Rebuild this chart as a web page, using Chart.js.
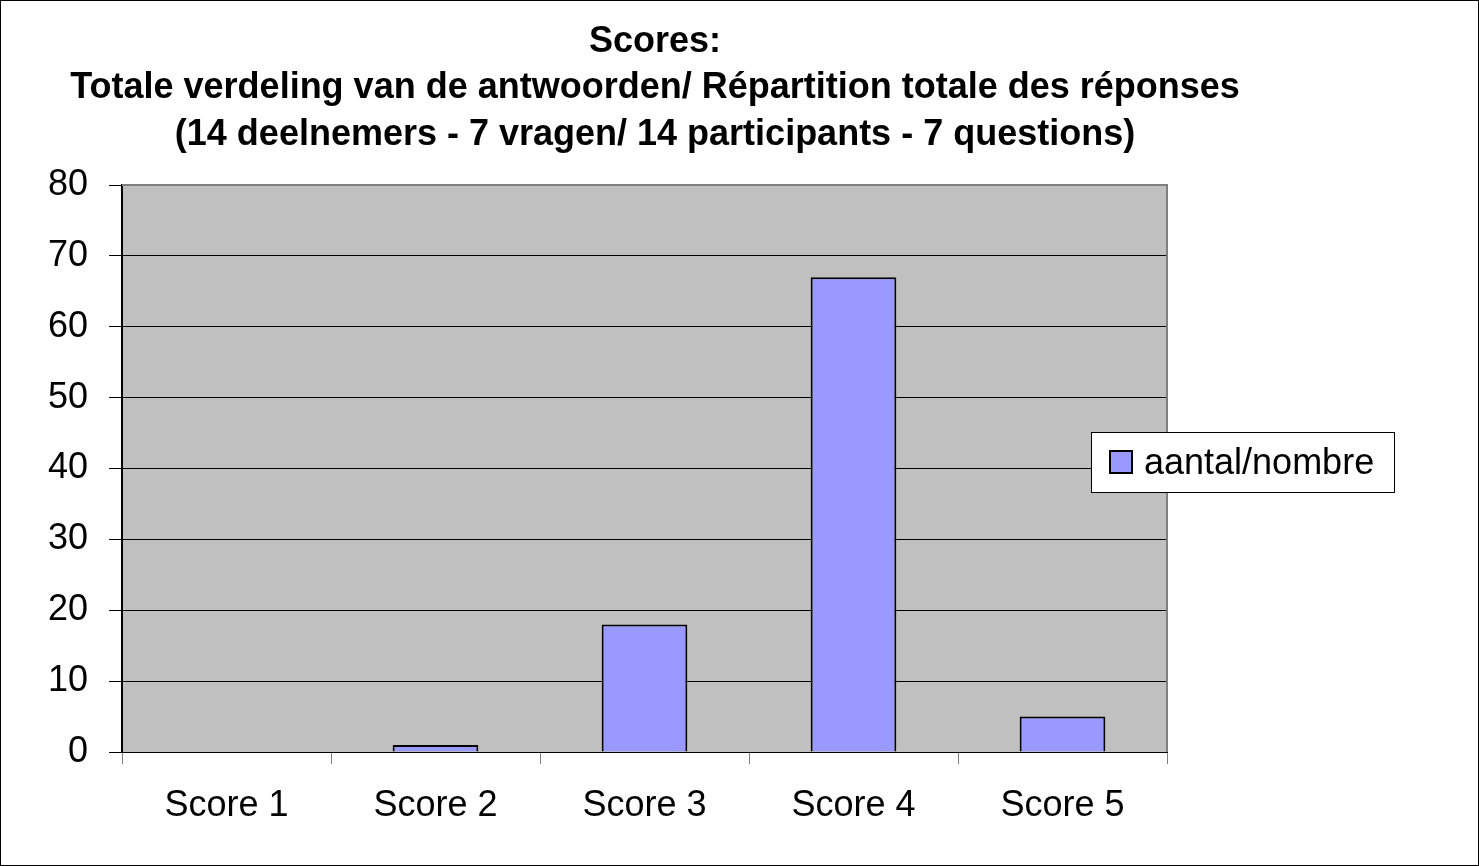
<!DOCTYPE html>
<html>
<head>
<meta charset="utf-8">
<script src="https://cdn.jsdelivr.net/npm/chart.js@4/dist/chart.umd.min.js"></script>
<style>
  body { margin: 0; background: #fff; }
  #wrap { width: 1479px; height: 866px; }
</style>
</head>
<body>
<div id="wrap"><canvas id="scoresChart" width="1479" height="866"></canvas></div>
<script>
const categories = ['Score 1', 'Score 2', 'Score 3', 'Score 4', 'Score 5']
const counts = [0, 1, 18, 67, 5]
const seriesLabel = 'aantal/nombre'
const titleLines = [
  'Scores:',
  'Totale verdeling van de antwoorden/ Répartition totale des réponses',
  '(14 deelnemers - 7 vragen/ 14 participants - 7 questions)'
]
const titleBaselines = [52, 98, 145]
const yTicks = [0, 10, 20, 30, 40, 50, 60, 70, 80]

const FONT = '"Liberation Sans", Arial, sans-serif'

// frame, plot background, title and legend box
const excelLook = {
  id: 'excelLook',
  beforeDraw(chart) {
    const c = chart.ctx
    const a = chart.chartArea
    c.save()
    c.fillStyle = '#fff'
    c.fillRect(0, 0, chart.width, chart.height)
    c.strokeStyle = '#000'
    c.lineWidth = 1
    c.strokeRect(0.5, 0.5, chart.width - 1, chart.height - 1)
    c.fillStyle = '#c0c0c0'
    c.fillRect(a.left, a.top, a.right - a.left, a.bottom - a.top)
    c.restore()
  },
  afterDraw(chart) {
    const c = chart.ctx
    const a = chart.chartArea
    c.save()
    // top / right border of plot area
    c.strokeStyle = '#808080'
    c.lineWidth = 2
    c.beginPath()
    c.moveTo(a.left, a.top)
    c.lineTo(a.right, a.top)
    c.lineTo(a.right, a.bottom)
    c.stroke()

    // title
    c.fillStyle = '#000'
    c.font = 'bold 36px ' + FONT
    c.textAlign = 'center'
    c.textBaseline = 'alphabetic'
    titleLines.forEach((t, i) => c.fillText(t, 655, titleBaselines[i]))

    // legend
    const ds = chart.data.datasets[0]
    c.fillStyle = '#fff'
    c.fillRect(1091, 432, 303, 60)
    c.strokeStyle = '#000'
    c.lineWidth = 1
    c.strokeRect(1091.5, 432.5, 303, 60)
    c.fillStyle = ds.backgroundColor
    c.fillRect(1110, 451, 22, 22)
    c.lineWidth = 2
    c.strokeRect(1110, 451, 22, 22)
    c.fillStyle = '#000'
    c.font = '36px ' + FONT
    c.textAlign = 'left'
    c.fillText(ds.label, 1144, 474)
    c.restore()
  }
}

const ctx = document.getElementById('scoresChart').getContext('2d')
const scoresChart = new Chart(ctx, {
  type: 'bar',
  data: {
    labels: categories,
    datasets: [{
      label: seriesLabel,
      data: counts,
      backgroundColor: '#9999ff',
      borderColor: '#000',
      borderWidth: 2,
      categoryPercentage: 1,
      barPercentage: 0.41
    }]
  },
  options: {
    responsive: false,
    animation: false,
    events: [],
    layout: {
      padding: { top: 185, right: 312, bottom: 0, left: 0 }
    },
    plugins: {
      legend: { display: false },
      title: { display: false },
      tooltip: { enabled: false }
    },
    scales: {
      x: {
        afterFit(scale) { scale.height = 114 },
        grid: {
          offset: true,
          drawOnChartArea: false,
          drawTicks: true,
          tickLength: 12,
          color: '#808080'
        },
        border: { display: true, color: '#000', width: 1 },
        ticks: {
          color: '#000',
          padding: 20,
          font: { family: FONT, size: 36 }
        }
      },
      y: {
        min: 0,
        max: 80,
        afterFit(scale) { scale.width = 122 },
        afterBuildTicks(scale) { scale.ticks = yTicks.map(v => ({ value: v })) },
        grid: {
          color: '#000',
          lineWidth: 1,
          drawTicks: true,
          tickLength: 13
        },
        border: { display: true, color: '#000', width: 2 },
        ticks: {
          color: '#000',
          padding: 21,
          font: { family: FONT, size: 36 }
        }
      }
    }
  },
  plugins: [excelLook]
})
</script>
</body>
</html>
